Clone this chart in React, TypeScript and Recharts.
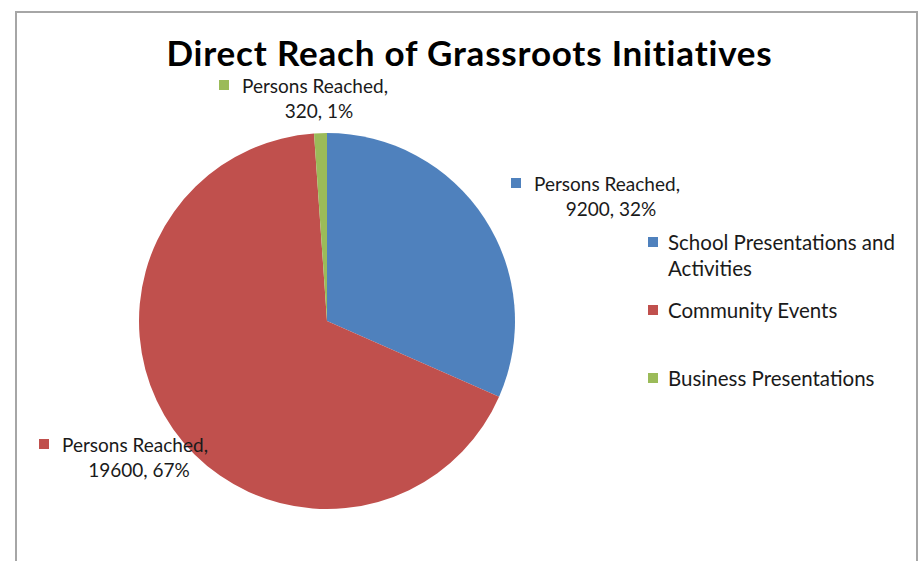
import React from 'react';
import { PieChart, Pie, Cell, Legend } from 'recharts';

const title = 'Direct Reach of Grassroots Initiatives';
const seriesName = 'Persons Reached';
const categories = ['School Presentations and Activities', 'Community Events', 'Business Presentations'];
const personsReached = [9200, 19600, 320];
const colors = ['#4F81BD', '#C0504D', '#9BBB59'];

// label placement relative to the pie centre (layout only)
const labelOffsets = [
  { dx: 280, dy: -130 },
  { dx: -192, dy: 131 },
  { dx: -12, dy: -228 },
];

const data = categories.map((name, i) => ({ name, value: personsReached[i] }));

const FONT = 'Lato, Carlito, Calibri, sans-serif';

function renderLabel(props: any) {
  const { cx, cy, index, value, percent } = props;
  const off = labelOffsets[index];
  const x = cx + off.dx;
  const y = cy + off.dy;
  return (
    <g>
      <rect x={x - 96} y={y - 13} width={10} height={10} fill={colors[index]} />
      <text x={x} y={y} textAnchor="middle" fontFamily={FONT} fontSize={19} fill="#1a1a1a">
        {seriesName + ','}
      </text>
      <text x={x + 4} y={y + 25} textAnchor="middle" fontFamily={FONT} fontSize={19} fill="#1a1a1a">
        {`${value}, ${Math.round(percent * 100)}%`}
      </text>
    </g>
  );
}

function renderLegend(props: any) {
  const payload = [...(props.payload || [])].sort(
    (a: any, b: any) => categories.indexOf(a.value) - categories.indexOf(b.value)
  );
  return (
    <div style={{ fontFamily: FONT, fontSize: 20.5, color: '#1a1a1a' }}>
      {payload.map((entry: any, i: number) => (
        <div key={i} style={{ position: 'relative', height: 68, paddingLeft: 20, lineHeight: '26px', width: 250 }}>
          <div
            style={{
              position: 'absolute',
              left: 0,
              top: 8,
              width: 10,
              height: 10,
              background: entry.color,
            }}
          />
          {entry.value}
        </div>
      ))}
    </div>
  );
}

export default function App() {
  return (
    <div style={{ position: 'absolute', left: 0, top: 0, width: 921, height: 561, background: '#fff', overflow: 'hidden' }}>
      <div
        style={{
          position: 'absolute',
          left: 15,
          top: 11,
          width: 903,
          height: 600,
          border: '2px solid #a6a6a6',
          boxSizing: 'border-box',
        }}
      />
      <div
        style={{
          position: 'absolute',
          left: 0,
          width: 939,
          top: 32,
          textAlign: 'center',
          fontFamily: FONT,
          fontWeight: 700,
          fontSize: 35,
          letterSpacing: '0.8px',
          color: '#000',
          lineHeight: '40px',
          whiteSpace: 'nowrap',
        }}
      >
        {title}
      </div>
      <div style={{ position: 'absolute', left: 0, top: 0 }}>
        <PieChart width={921} height={561} margin={{ top: 0, right: 0, bottom: 0, left: 0 }}>
          <Pie
            data={data}
            dataKey="value"
            nameKey="name"
            cx={327}
            cy={321}
            outerRadius={188}
            startAngle={90}
            endAngle={-270}
            stroke="none"
            label={renderLabel}
            labelLine={false}
            isAnimationActive={false}
          >
            {data.map((d, i) => (
              <Cell key={d.name} fill={colors[i]} />
            ))}
          </Pie>
          <Legend
            layout="vertical"
            content={renderLegend}
            wrapperStyle={{ position: 'absolute', left: 648, top: 229, width: 260 }}
          />
        </PieChart>
      </div>
    </div>
  );
}
